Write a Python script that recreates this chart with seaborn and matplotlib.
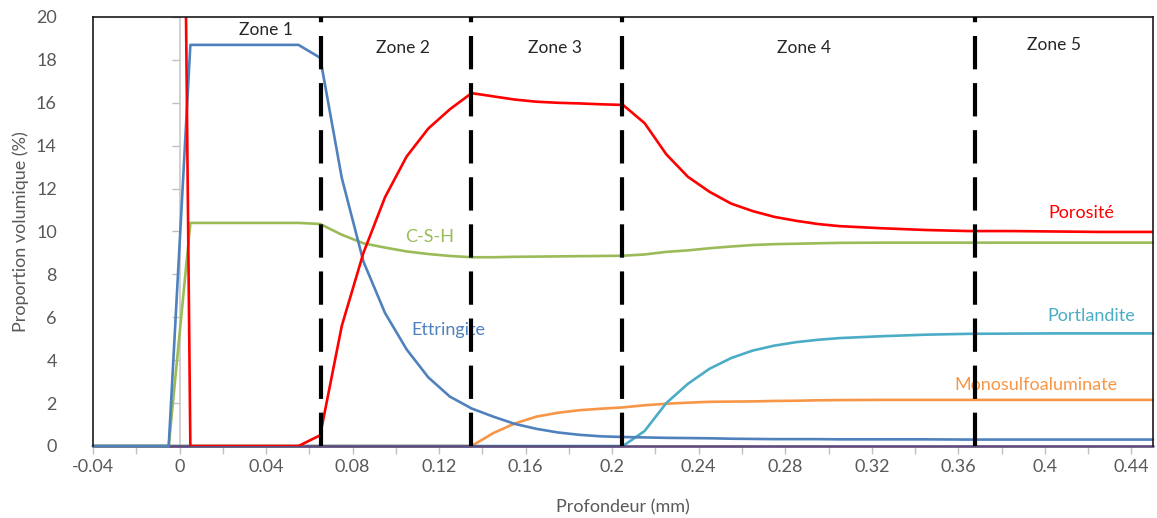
import pandas as pd
import matplotlib
matplotlib.use('Agg')
import matplotlib.pyplot as plt
from matplotlib.ticker import MultipleLocator, FuncFormatter
import seaborn as sns

# Profondeur (mm)
depth = [-0.04, -0.005, 0.005, 0.015, 0.025, 0.035, 0.045, 0.055, 0.065, 0.075,
         0.085, 0.095, 0.105, 0.115, 0.125, 0.135, 0.145, 0.155, 0.165, 0.175,
         0.185, 0.195, 0.205, 0.215, 0.225, 0.235, 0.245, 0.255, 0.265, 0.275,
         0.285, 0.295, 0.305, 0.325, 0.345, 0.365, 0.385, 0.405, 0.425, 0.45]

porosite = [100, 100, 0, 0, 0, 0, 0, 0, 0.5, 5.6,
            9.0, 11.6, 13.5, 14.8, 15.7, 16.45, 16.3, 16.15, 16.05, 16.0,
            15.97, 15.93, 15.9, 15.05, 13.6, 12.55, 11.85, 11.3, 10.95, 10.68,
            10.5, 10.35, 10.25, 10.15, 10.07, 10.02, 10.02, 10.0, 9.98, 9.98]

ettringite = [0, 0, 18.7, 18.7, 18.7, 18.7, 18.7, 18.7, 18.1, 12.5,
              8.6, 6.2, 4.5, 3.2, 2.3, 1.75, 1.37, 1.03, 0.8, 0.63,
              0.52, 0.45, 0.42, 0.4, 0.38, 0.37, 0.36, 0.34, 0.33, 0.32,
              0.32, 0.32, 0.31, 0.31, 0.31, 0.3, 0.3, 0.3, 0.3, 0.3]

csh = [0, 0, 10.4, 10.4, 10.4, 10.4, 10.4, 10.4, 10.35, 9.85,
       9.45, 9.25, 9.07, 8.95, 8.86, 8.8, 8.8, 8.82, 8.83, 8.84,
       8.85, 8.86, 8.87, 8.93, 9.05, 9.12, 9.22, 9.3, 9.37, 9.41,
       9.43, 9.45, 9.47, 9.48, 9.48, 9.48, 9.48, 9.48, 9.48, 9.48]

monosulfo = [0, 0, 0, 0, 0, 0, 0, 0, 0, 0,
             0, 0, 0, 0, 0, 0, 0.6, 1.05, 1.37, 1.55,
             1.67, 1.74, 1.8, 1.9, 1.97, 2.02, 2.06, 2.07, 2.08, 2.1,
             2.11, 2.13, 2.14, 2.15, 2.15, 2.15, 2.15, 2.15, 2.15, 2.15]

portlandite = [0, 0, 0, 0, 0, 0, 0, 0, 0, 0,
               0, 0, 0, 0, 0, 0, 0, 0, 0, 0,
               0, 0, 0, 0.7, 2.0, 2.9, 3.6, 4.1, 4.45, 4.68,
               4.84, 4.95, 5.03, 5.12, 5.19, 5.23, 5.24, 5.25, 5.25, 5.25]

autre = [0] * len(depth)

zone_bounds = [0.0654, 0.1349, 0.2046, 0.3677]
zone_labels = ['Zone 1', 'Zone 2', 'Zone 3', 'Zone 4', 'Zone 5']
zone_label_pos = [(0.040, 19.4), (0.1033, 18.55), (0.1735, 18.55), (0.2888, 18.55), (0.4042, 18.7)]

series = {
    'Monosulfoaluminate': monosulfo,
    'Portlandite': portlandite,
    'Autre': autre,
    'C-S-H': csh,
    'Ettringite': ettringite,
    'Porosité': porosite,
}
colors = {
    'Monosulfoaluminate': '#F79646',
    'Portlandite': '#4BACC6',
    'Autre': '#5F4B7B',
    'C-S-H': '#9BBB59',
    'Ettringite': '#4F81BD',
    'Porosité': '#FF0000',
}
# position des étiquettes des courbes
label_pos = {
    'C-S-H': (0.1157, 9.74),
    'Ettringite': (0.1245, 5.41),
    'Porosité': (0.4167, 10.86),
    'Portlandite': (0.4213, 6.06),
    'Monosulfoaluminate': (0.3959, 2.84),
}

df = pd.concat([pd.DataFrame({'depth': depth, 'value': v, 'phase': k})
                for k, v in series.items()], ignore_index=True)

sns.set_style('white')
plt.rcParams['font.family'] = ['Lato', 'DejaVu Sans']

fig = plt.figure(figsize=(11.57, 5.18), dpi=100)
ax = fig.add_axes([93 / 1157, 1 - 446 / 518, 1060 / 1157, 429 / 518])

sns.lineplot(data=df, x='depth', y='value', hue='phase', hue_order=list(series),
             palette=colors, sort=False, estimator=None, linewidth=1.9,
             legend=False, ax=ax)

for line in ax.lines:
    if line.get_color() != colors['Porosité']:
        line.set_clip_on(False)

for b in zone_bounds:
    ax.axvline(b, color='black', linewidth=3, dashes=(8, 3.3), zorder=5)

for lab, (x, y) in zip(zone_labels, zone_label_pos):
    ax.text(x, y, lab, ha='center', va='center', fontsize=12.5, color='#262626')

for name, (x, y) in label_pos.items():
    ax.text(x, y, name, ha='center', va='center', fontsize=13, color=colors[name])

ax.set_xlim(-0.04, 0.45)
ax.set_ylim(0, 20)
ax.xaxis.set_major_locator(MultipleLocator(0.04))
ax.xaxis.set_minor_locator(MultipleLocator(0.02))
ax.xaxis.set_major_formatter(FuncFormatter(lambda v, p: f"{round(v, 2):g}"))
ax.yaxis.set_major_locator(MultipleLocator(2))

ax.tick_params(axis='x', which='both', bottom=True, length=6, width=1,
               color='#BFBFBF', labelsize=13, labelcolor='#595959', pad=3)
ax.tick_params(axis='y', left=True, length=0, labelsize=13,
               labelcolor='#595959', pad=26)

for side in ['top', 'right', 'left']:
    ax.spines[side].set_color('#1A1A1A')
    ax.spines[side].set_linewidth(1.2)
ax.spines['bottom'].set_color('#BFBFBF')
ax.spines['bottom'].set_zorder(1)

# axe vertical gris en x = 0
x0 = (0 - ax.get_xlim()[0]) / (ax.get_xlim()[1] - ax.get_xlim()[0])
sec = ax.secondary_yaxis(x0)
sec.spines['left'].set_color('#C8C8C8')
sec.spines['left'].set_linewidth(1.2)
sec.yaxis.set_major_locator(MultipleLocator(2))
sec.tick_params(axis='y', length=6, width=1, color='#BFBFBF', labelleft=False)

ax.set_xlabel('Profondeur (mm)', fontsize=13, color='#595959', labelpad=18)
ax.set_ylabel('Proportion volumique (%)', fontsize=13, color='#595959', labelpad=5)

fig.savefig('out.png', dpi=100)
